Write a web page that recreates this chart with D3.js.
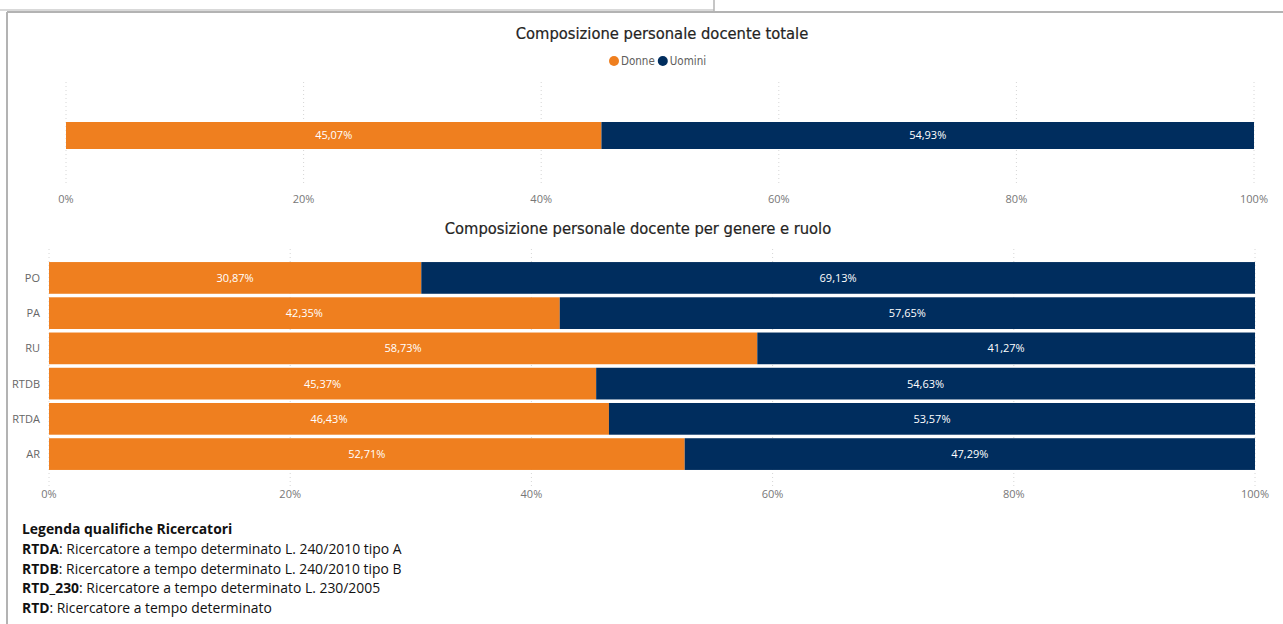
<!DOCTYPE html>
<html lang="it">
<head>
<meta charset="UTF-8">
<title>Composizione personale docente</title>
<style>
  body { margin: 0; background: #fff; font-family: "Open Sans", "Noto Sans", sans-serif; }
  svg { display: block; }
</style>
</head>
<body>
<svg id="chart" width="1283" height="624"></svg>
<script src="https://d3js.org/d3.v7.min.js"></script>
<script>
// totals
const totalDonne = 45.07;
const totalUomini = 54.93;

// by role
const roles = ["PO", "PA", "RU", "RTDB", "RTDA", "AR"];
const donne = [30.87, 42.35, 58.73, 45.37, 46.43, 52.71];
const uomini = [69.13, 57.65, 41.27, 54.63, 53.57, 47.29];

const ticks = [0, 20, 40, 60, 80, 100];

const legendLines = [
  ["Legenda qualifiche Ricercatori", ""],
  ["RTDA", ": Ricercatore a tempo determinato L. 240/2010 tipo A"],
  ["RTDB", ": Ricercatore a tempo determinato L. 240/2010 tipo B"],
  ["RTD_230", ": Ricercatore a tempo determinato L. 230/2005"],
  ["RTD", ": Ricercatore a tempo determinato"]
];

const orange = "#EF7F1F";
const navy = "#002D5E";
const fmt = v => v.toFixed(2).replace(".", ",") + "%";

const svg = d3.select("#chart");

// frame lines
svg.append("line").attr("x1", 7).attr("x2", 1283).attr("y1", 12).attr("y2", 12)
  .attr("stroke", "#b3b3b3").attr("stroke-width", 2);
svg.append("line").attr("x1", 7).attr("x2", 7).attr("y1", 12).attr("y2", 624)
  .attr("stroke", "#b3b3b3").attr("stroke-width", 2);
svg.append("line").attr("x1", 714).attr("x2", 714).attr("y1", 0).attr("y2", 12)
  .attr("stroke", "#b3b3b3").attr("stroke-width", 1.5);
svg.append("line").attr("x1", 0).attr("x2", 714).attr("y1", 10).attr("y2", 10)
  .attr("stroke", "#b3b3b3").attr("stroke-width", 1);

const titleFont = "'DejaVu Sans Condensed', 'Roboto Condensed', sans-serif";

function drawAxis(x, yTop, yBottom, yLabel) {
  const g = svg.append("g");
  g.selectAll("line.grid").data(ticks).join("line")
    .attr("x1", d => x(d)).attr("x2", d => x(d))
    .attr("y1", yTop).attr("y2", yBottom)
    .attr("stroke", "#d6d6d6").attr("stroke-dasharray", "1,3");
  g.selectAll("text").data(ticks).join("text")
    .attr("x", d => x(d)).attr("y", yLabel)
    .attr("text-anchor", "middle")
    .attr("font-size", 11).attr("fill", "#777")
    .text(d => d + "%");
}

// --- top chart ---
svg.append("text").attr("x", 662).attr("y", 39).attr("text-anchor", "middle")
  .attr("font-family", titleFont).attr("font-size", 16.4).attr("fill", "#252423")
  .attr("stroke", "#252423").attr("stroke-width", 0.2)
  .text("Composizione personale docente totale");

const legend = [["Donne", orange], ["Uomini", navy]];
let lx = 614;
legend.forEach(([name, col]) => {
  svg.append("circle").attr("cx", lx).attr("cy", 61).attr("r", 5).attr("fill", col);
  const t = svg.append("text").attr("x", lx + 7).attr("y", 65)
    .attr("font-family", titleFont).attr("font-size", 11.5).attr("fill", "#605e5c").text(name);
  lx += t.node().getComputedTextLength() + 15;
});

const x1 = d3.scaleLinear().domain([0, 100]).range([66, 1254]);
drawAxis(x1, 82, 186, 203);
const topData = [[0, totalDonne, orange], [totalDonne, totalDonne + totalUomini, navy]];
svg.selectAll("rect.top").data(topData).join("rect")
  .attr("x", d => x1(d[0])).attr("width", d => x1(d[1]) - x1(d[0]))
  .attr("y", 122).attr("height", 27).attr("fill", d => d[2]);
svg.selectAll("text.top").data(topData).join("text")
  .attr("x", d => (x1(d[0]) + x1(d[1])) / 2).attr("y", 139)
  .attr("text-anchor", "middle").attr("font-size", 11).attr("fill", "#fff")
  .text(d => fmt(d[1] - d[0]));

// --- bottom chart ---
svg.append("text").attr("x", 638).attr("y", 234).attr("text-anchor", "middle")
  .attr("font-family", titleFont).attr("font-size", 16.4).attr("fill", "#252423")
  .attr("stroke", "#252423").attr("stroke-width", 0.2)
  .text("Composizione personale docente per genere e ruolo");

const x2 = d3.scaleLinear().domain([0, 100]).range([49, 1255]);
const y2 = d3.scaleBand().domain(roles).range([261, 471]).paddingInner(0.1).paddingOuter(0.03);
drawAxis(x2, 249, 486, 498);

const rows = roles.map((r, i) => ({ role: r, d: donne[i], u: uomini[i] }));
const rg = svg.selectAll("g.row").data(rows).join("g");
rg.append("rect").attr("x", x2(0)).attr("y", d => y2(d.role))
  .attr("width", d => x2(d.d) - x2(0)).attr("height", y2.bandwidth()).attr("fill", orange);
rg.append("rect").attr("x", d => x2(d.d)).attr("y", d => y2(d.role))
  .attr("width", d => x2(d.d + d.u) - x2(d.d)).attr("height", y2.bandwidth()).attr("fill", navy);
rg.append("text").attr("x", d => (x2(0) + x2(d.d)) / 2).attr("y", d => y2(d.role) + y2.bandwidth() / 2 + 4)
  .attr("text-anchor", "middle").attr("font-size", 11).attr("fill", "#fff").text(d => fmt(d.d));
rg.append("text").attr("x", d => (x2(d.d) + x2(d.d + d.u)) / 2).attr("y", d => y2(d.role) + y2.bandwidth() / 2 + 4)
  .attr("text-anchor", "middle").attr("font-size", 11).attr("fill", "#fff").text(d => fmt(d.u));
rg.append("text").attr("x", 40).attr("y", d => y2(d.role) + y2.bandwidth() / 2 + 4)
  .attr("text-anchor", "end").attr("font-size", 11).attr("fill", "#666").text(d => d.role);

// --- legend text ---
legendLines.forEach(([b, rest], i) => {
  const t = svg.append("text").attr("x", 22).attr("y", 534 + i * 19.8)
    .attr("font-size", 13.9).attr("fill", "#111");
  t.append("tspan").attr("font-weight", "bold").text(b);
  if (rest) t.append("tspan").text(rest);
});
</script>
</body>
</html>
